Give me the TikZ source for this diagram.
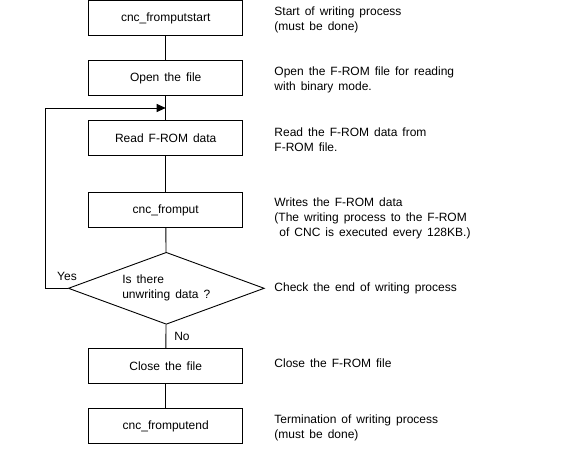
\documentclass[tikz,border=0pt]{standalone}
\usepackage{fontspec}
\setmainfont{Liberation Sans}[WordSpace=1.5]
\usetikzlibrary{shapes.geometric,arrows.meta}
\begin{document}
\begin{tikzpicture}[x=1pt,y=-1pt,font=\fontsize{12}{15}\selectfont,line width=0.9pt,
  box/.style={draw,minimum width=154pt,minimum height=35pt,inner sep=0pt},
  dia/.style={draw,shape=diamond,aspect=2.72,minimum width=196pt,minimum height=72pt,inner sep=0pt,align=left},
  note/.style={anchor=west,align=left,inner sep=0pt},
  lbl/.style={inner sep=0pt},
  conn/.style={draw},
  loopconn/.style={draw,-{Triangle[length=9pt,width=8pt]}}]
\useasboundingbox (0,0) rectangle (567,462);
\node[box] (b1) at (165.7,18) {cnc\_fromputstart};
\node[box] (b2) at (165.7,78) {Open the file};
\node[box] (b3) at (165.7,138) {Read F-ROM data};
\node[box] (b4) at (165.7,210) {cnc\_fromput};
\node[dia] (d) at (166.3,288.3) {Is there\\unwriting data ?};
\node[box] (b5) at (165.7,366) {Close the file};
\node[box] (b6) at (165.7,426) {cnc\_fromputend};
\coordinate (m) at (165.7,108);
\coordinate (c) at (45,108);
\path[conn] (b1) -- (b2);
\path[conn] (b2) -- (b3);
\path[conn] (b3) -- (b4);
\path[conn] (b4) -- (d);
\path[conn] (d) -- (b5);
\path[conn] (b5) -- (b6);
\path[loopconn] (d.west) -| (c) -- (m);
\node[lbl] (yes) at (67,276) {Yes};
\node[lbl] (no) at (182,336) {No};
\node[note] (n1) at (274,19.5) {Start of writing process\\(must be done)};
\node[note] (n2) at (274,79.5) {Open the F-ROM file for reading\\with binary mode.};
\node[note] (n3) at (274,139.5) {Read the F-ROM data from\\F-ROM file.};
\node[note] (n4) at (274,218) {Writes the F-ROM data\\(The writing process to the F-ROM\\\hspace*{5pt}of CNC is executed every 128KB.)};
\node[note] (n5) at (274,288) {Check the end of writing process};
\node[note] (n6) at (274,363) {Close the F-ROM file};
\node[note] (n7) at (274,427.5) {Termination of writing process\\(must be done)};
\end{tikzpicture}
\end{document}
